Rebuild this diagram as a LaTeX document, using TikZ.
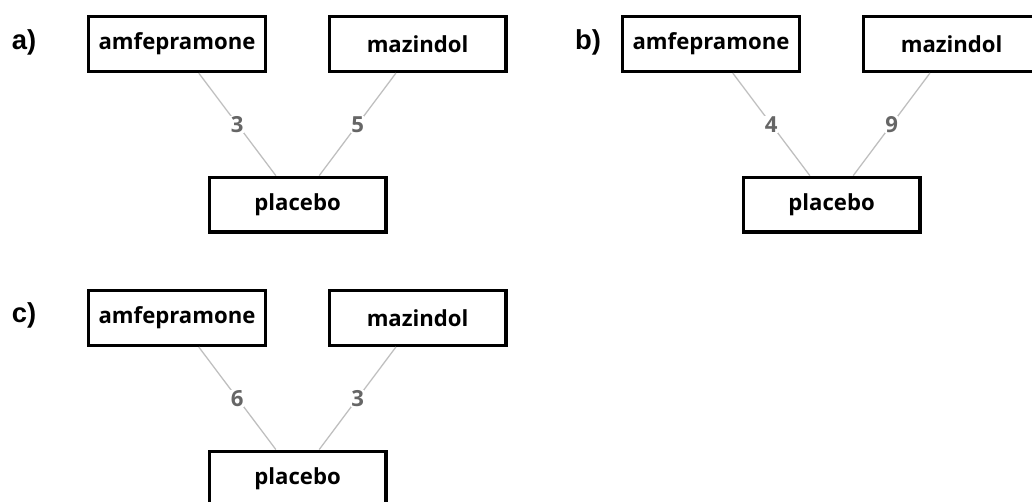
\documentclass[tikz,border=0pt]{standalone}
\usepackage{fontspec}
\setmainfont{Open Sans}
\newfontfamily\panelfont{Liberation Sans}
\usetikzlibrary{positioning}

\begin{document}
\begin{tikzpicture}[
  drug/.style={rectangle,draw,line width=3.2pt,minimum width=5.89cm,minimum height=1.82cm,
    inner sep=0pt,fill=white,font=\fontsize{21}{25}\selectfont\bfseries},
  cmp/.style={draw=gray!50,line width=1.2pt},
  nr/.style={font=\fontsize{21}{25}\selectfont\bfseries,text=black!60,fill=white,inner sep=0.5pt},
  panel/.style={font=\panelfont\fontsize{26}{30}\selectfont\bfseries},
]
\useasboundingbox[fill=white] (0,0) rectangle (34.4,-16.7);

% ===== a) =====
\node[panel] (la) at (0.8,-1.43) {a)};
\node[drug] (amfA) at (5.9,-1.47)  {amfepramone};
\node[drug] (mazA) at (13.92,-1.47) {mazindol};
\node[drug] (plaA) at (9.92,-6.82) {placebo};
\draw[cmp] (amfA) -- node[nr] {3} (plaA);
\draw[cmp] (mazA) -- node[nr] {5} (plaA);

% ===== b) =====
\begin{scope}[xshift=17.8cm]
\node[panel] (lb) at (1.8,-1.43) {b)};
\node[drug] (amfB) at (5.9,-1.47)  {amfepramone};
\node[drug] (mazB) at (13.92,-1.47) {mazindol};
\node[drug] (plaB) at (9.92,-6.82) {placebo};
\draw[cmp] (amfB) -- node[nr] {4} (plaB);
\draw[cmp] (mazB) -- node[nr] {9} (plaB);
\end{scope}

% ===== c) =====
\begin{scope}[yshift=-9.13cm]
\node[panel] (lc) at (0.8,-1.37) {c)};
\node[drug] (amfC) at (5.9,-1.47)  {amfepramone};
\node[drug] (mazC) at (13.92,-1.47) {mazindol};
\node[drug] (plaC) at (9.92,-6.82) {placebo};
\draw[cmp] (amfC) -- node[nr] {6} (plaC);
\draw[cmp] (mazC) -- node[nr] {3} (plaC);
\end{scope}
\end{tikzpicture}
\end{document}
